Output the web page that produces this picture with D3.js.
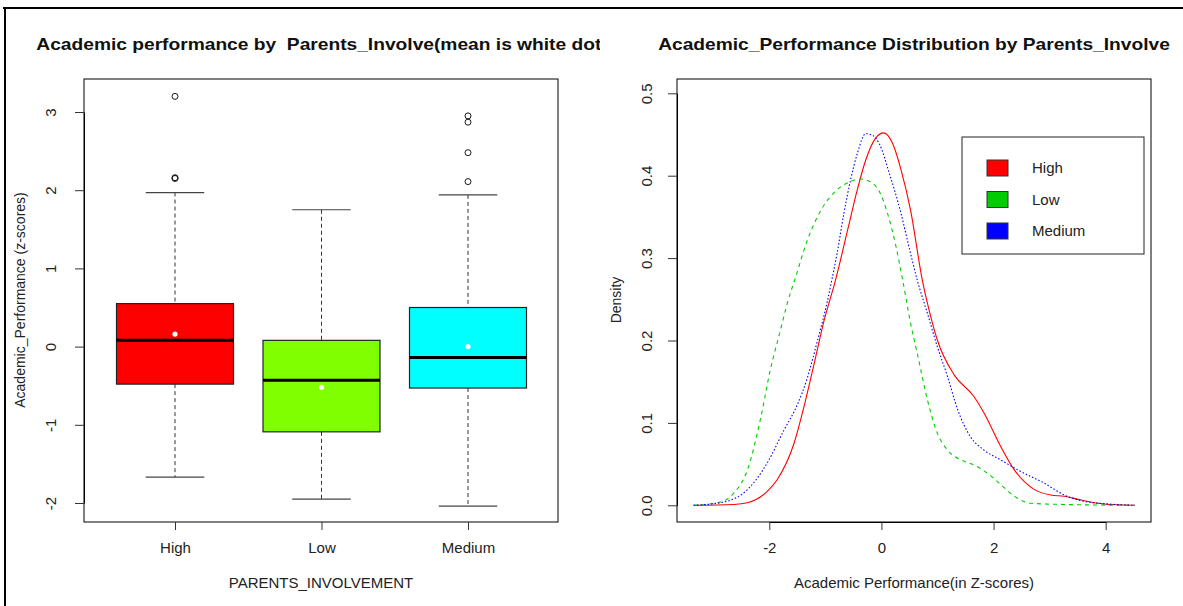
<!DOCTYPE html>
<html>
<head>
<meta charset="utf-8">
<script src="https://cdn.jsdelivr.net/npm/d3@7"></script>
<style>
  body { margin: 0; background: #fff; }
  svg { display: block; font-family: "Liberation Sans", Arial, sans-serif; }
</style>
</head>
<body>
<svg id="chart" width="1183" height="606"></svg>
<script>
// ---- data ----
const groups = ["High", "Low", "Medium"];
const boxFills = ["#ff0000", "#7fff00", "#00ffff"];
const whiskerLow = [-1.67, -1.95, -2.04];
const quartile1 = [-0.48, -1.09, -0.53];
const medians = [0.08, -0.43, -0.14];
const quartile3 = [0.55, 0.08, 0.50];
const whiskerHigh = [1.97, 1.75, 1.94];
const means = [0.16, -0.52, 0.0];
const outliers = [[2.15, 2.16, 3.20], [], [2.11, 2.48, 2.87, 2.95]];
const boxTicks = [-2, -1, 0, 1, 2, 3];

const densHigh = [[-3.35, 0], [-2.63, 0.001], [-2.39, 0.003], [-2.05, 0.016], [-1.86, 0.031], [-1.56, 0.075],
  [-1.38, 0.12], [-1.2, 0.172], [-1.02, 0.225], [-0.82, 0.273], [-0.61, 0.332], [-0.43, 0.383], [-0.28, 0.419],
  [-0.11, 0.445], [0.04, 0.452], [0.2, 0.439], [0.35, 0.407], [0.52, 0.358], [0.73, 0.273], [0.85, 0.237],
  [1.0, 0.2], [1.3, 0.158], [1.65, 0.132], [1.83, 0.112], [2.13, 0.071], [2.37, 0.043], [2.73, 0.019],
  [3.02, 0.0125], [3.26, 0.011], [3.56, 0.0064], [3.97, 0.0016], [4.52, 0]];
const densLow = [[-3.35, 0], [-2.87, 0.004], [-2.63, 0.015], [-2.39, 0.043], [-2.16, 0.104], [-1.98, 0.165],
  [-1.8, 0.213], [-1.68, 0.245], [-1.53, 0.277], [-1.32, 0.322], [-1.08, 0.358], [-0.79, 0.383], [-0.55, 0.393],
  [-0.37, 0.396], [-0.16, 0.391], [-0.01, 0.377], [0.11, 0.354], [0.26, 0.314], [0.38, 0.273], [0.52, 0.221],
  [0.64, 0.184], [0.82, 0.128], [1.0, 0.087], [1.18, 0.067], [1.42, 0.055], [1.65, 0.049], [1.89, 0.039],
  [2.13, 0.025], [2.37, 0.011], [2.67, 0.0024], [3.26, 0.001], [4.52, 0]];
const densMedium = [[-3.35, 0], [-2.81, 0.004], [-2.39, 0.019], [-2.04, 0.051], [-1.74, 0.091], [-1.5, 0.122],
  [-1.32, 0.155], [-1.14, 0.2], [-0.96, 0.249], [-0.88, 0.275], [-0.79, 0.306], [-0.67, 0.354], [-0.55, 0.395],
  [-0.43, 0.427], [-0.28, 0.451], [-0.16, 0.449], [-0.04, 0.439], [0.14, 0.403], [0.35, 0.354], [0.49, 0.314],
  [0.64, 0.273], [0.82, 0.233], [1.0, 0.192], [1.18, 0.156], [1.36, 0.116], [1.59, 0.083], [1.83, 0.067],
  [2.13, 0.055], [2.43, 0.043], [2.9, 0.027], [3.26, 0.0125], [3.56, 0.0056], [4.04, 0.0016], [4.52, 0]];
const densTicksX = [-2, 0, 2, 4];
const densTicksY = [0, 0.1, 0.2, 0.3, 0.4, 0.5];
const legendColors = ["#ff0000", "#00cd00", "#0000ff"];

const svg = d3.select("#chart");
const fontSize = 15;
const txtColor = "#222";

// page frame (the figure is a screenshot from a document)
svg.append("line").attr("x1", 3).attr("x2", 1183).attr("y1", 8).attr("y2", 8)
  .attr("stroke", "#000").attr("stroke-width", 2);
svg.append("line").attr("x1", 5).attr("x2", 5).attr("y1", 8).attr("y2", 606)
  .attr("stroke", "#000").attr("stroke-width", 2);

// ---------- left: box plot ----------
const yBox = d3.scaleLinear().domain([-2, 3]).range([503, 112]);
const xBox = d3.scalePoint().domain(groups).range([175, 468]);
const boxW = 117;

const left = svg.append("g");
left.append("rect").attr("x", 84).attr("y", 79).attr("width", 474).attr("height", 443)
  .attr("fill", "none").attr("stroke", "#000");

groups.forEach((g, i) => {
  const cx = xBox(g);
  const gg = left.append("g");
  // whiskers (dashed)
  gg.append("line").attr("x1", cx).attr("x2", cx).attr("y1", yBox(whiskerHigh[i])).attr("y2", yBox(quartile3[i]))
    .attr("stroke", "#333").attr("stroke-dasharray", "4,3");
  gg.append("line").attr("x1", cx).attr("x2", cx).attr("y1", yBox(quartile1[i])).attr("y2", yBox(whiskerLow[i]))
    .attr("stroke", "#333").attr("stroke-dasharray", "4,3");
  // staples
  [whiskerHigh[i], whiskerLow[i]].forEach(v => {
    gg.append("line").attr("x1", cx - boxW / 4).attr("x2", cx + boxW / 4)
      .attr("y1", yBox(v)).attr("y2", yBox(v)).attr("stroke", "#444").attr("stroke-width", 1.2);
  });
  // box
  gg.append("rect").attr("x", cx - boxW / 2).attr("y", yBox(quartile3[i]))
    .attr("width", boxW).attr("height", yBox(quartile1[i]) - yBox(quartile3[i]))
    .attr("fill", boxFills[i]).attr("stroke", "#222").attr("stroke-width", 1.2);
  // median
  gg.append("line").attr("x1", cx - boxW / 2).attr("x2", cx + boxW / 2)
    .attr("y1", yBox(medians[i])).attr("y2", yBox(medians[i])).attr("stroke", "#000").attr("stroke-width", 3);
  // mean (white dot)
  gg.append("circle").attr("cx", cx).attr("cy", yBox(means[i])).attr("r", 2.6).attr("fill", "#fff");
  // outliers
  gg.selectAll("circle.out").data(outliers[i]).join("circle").attr("class", "out")
    .attr("cx", cx).attr("cy", d => yBox(d)).attr("r", 3)
    .attr("fill", "none").attr("stroke", "#000").attr("stroke-width", 0.9);
});

// left axes (R style: plain hyphen minus)
const yAxisL = left.append("g").attr("transform", "translate(84,0)")
  .call(d3.axisLeft(yBox).tickValues(boxTicks).tickSize(9).tickSizeOuter(0).tickFormat(d => String(d)));
yAxisL.selectAll("text").attr("transform", "rotate(-90)").attr("x", 0).attr("y", -33)
  .attr("dy", "0.35em").attr("text-anchor", "middle");

const xAxisL = left.append("g").attr("transform", "translate(0,522)")
  .call(d3.axisBottom(xBox).tickSize(8).tickSizeOuter(0));
xAxisL.select(".domain").remove();
xAxisL.selectAll("text").attr("y", 26).attr("dy", "0.35em");

// ---------- right: density ----------
const xDen = d3.scaleLinear().domain([-2, 4]).range([769.3, 1105.7]);
const yDen = d3.scaleLinear().domain([0, 0.5]).range([505.3, 93.3]);

const right = svg.append("g");
right.append("rect").attr("x", 677).attr("y", 79).attr("width", 474).attr("height", 443)
  .attr("fill", "none").attr("stroke", "#000");

const line = d3.line().x(d => xDen(d[0])).y(d => yDen(d[1])).curve(d3.curveMonotoneX);
right.append("path").datum(densHigh).attr("d", line).attr("fill", "none")
  .attr("stroke", "#ff0000").attr("stroke-width", 1.1);
right.append("path").datum(densLow).attr("d", line).attr("fill", "none")
  .attr("stroke", "#00cd00").attr("stroke-width", 1.1).attr("stroke-dasharray", "4,4");
right.append("path").datum(densMedium).attr("d", line).attr("fill", "none")
  .attr("stroke", "#0000ff").attr("stroke-width", 1.1).attr("stroke-dasharray", "1.5,2");

const yAxisR = right.append("g").attr("transform", "translate(677,0)")
  .call(d3.axisLeft(yDen).tickValues(densTicksY).tickSize(9).tickSizeOuter(0).tickFormat(d3.format(".1f")));
yAxisR.selectAll("text").attr("transform", "rotate(-90)").attr("x", 0).attr("y", -30)
  .attr("dy", "0.35em").attr("text-anchor", "middle");

const xAxisR = right.append("g").attr("transform", "translate(0,522)")
  .call(d3.axisBottom(xDen).tickValues(densTicksX).tickSize(8).tickSizeOuter(0).tickFormat(d => String(d)));
xAxisR.selectAll("text").attr("y", 26).attr("dy", "0.35em");

// legend
const lg = right.append("g");
lg.append("rect").attr("x", 962).attr("y", 137).attr("width", 182).attr("height", 117)
  .attr("fill", "#fff").attr("stroke", "#222");
groups.forEach((g, i) => {
  const cy = 168 + i * 31.5;
  lg.append("rect").attr("x", 987).attr("y", cy - 8).attr("width", 21).attr("height", 16)
    .attr("fill", legendColors[i]).attr("stroke", "#333");
  lg.append("text").attr("x", 1032).attr("y", cy).attr("dy", "0.35em").text(g);
});

// common axis styling
svg.selectAll(".tick text").attr("font-size", fontSize).attr("font-family", null).attr("fill", txtColor);
svg.selectAll(".tick line").attr("stroke", "#333");
svg.selectAll(".domain").attr("stroke", "#000");
lg.selectAll("text").attr("font-size", fontSize).attr("fill", txtColor);

// titles (glyphs in the source are a little wide, so stretch horizontally)
svg.append("clipPath").attr("id", "clipL").append("rect")
  .attr("x", 0).attr("y", 0).attr("width", 600).attr("height", 606);
svg.append("g").attr("clip-path", "url(#clipL)")
  .append("text").attr("transform", "translate(322,50) scale(1.2,1)").attr("text-anchor", "middle")
  .attr("font-weight", "bold").attr("font-size", 16).attr("fill", "#111").style("white-space", "pre")
  .text("Academic performance by  Parents_Involve(mean is white dot)");
svg.append("text").attr("transform", "translate(914,50) scale(1.2,1)").attr("text-anchor", "middle")
  .attr("font-weight", "bold").attr("font-size", 16).attr("fill", "#111")
  .text("Academic_Performance Distribution by Parents_Involve");

svg.append("text").attr("x", 321).attr("y", 583).attr("dy", "0.35em").attr("text-anchor", "middle")
  .attr("font-size", fontSize).attr("fill", txtColor).text("PARENTS_INVOLVEMENT");
svg.append("text").attr("x", 914).attr("y", 583).attr("dy", "0.35em").attr("text-anchor", "middle")
  .attr("font-size", fontSize).attr("fill", txtColor).text("Academic Performance(in Z-scores)");
svg.append("text").attr("transform", "translate(20,300) rotate(-90)").attr("dy", "0.35em")
  .attr("text-anchor", "middle").attr("font-size", 14).attr("fill", txtColor)
  .text("Academic_Performance (z-scores)");
svg.append("text").attr("transform", "translate(616,300) rotate(-90)").attr("dy", "0.35em")
  .attr("text-anchor", "middle").attr("font-size", 14).attr("fill", txtColor).text("Density");
</script>
</body>
</html>
